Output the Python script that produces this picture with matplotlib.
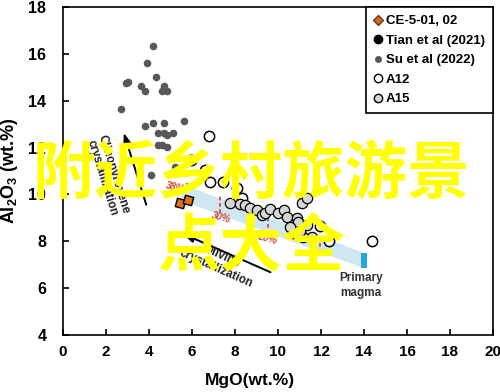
import numpy as np
import matplotlib
matplotlib.use('Agg')
import matplotlib.pyplot as plt
from matplotlib.lines import Line2D
from matplotlib.patches import Polygon, Rectangle

plt.rcParams['font.family'] = ['Liberation Sans', 'DejaVu Sans']
plt.rcParams['font.weight'] = 'bold'
plt.rcParams['mathtext.fontset'] = 'custom'
plt.rcParams['mathtext.rm'] = 'Liberation Sans:bold'
plt.rcParams['mathtext.it'] = 'Liberation Sans:bold'
plt.rcParams['mathtext.bf'] = 'Liberation Sans:bold'

# Su et al (2022)
mgo_su = [4.20, 3.92, 4.31, 2.93, 3.01, 3.61, 3.81, 4.70, 4.59, 4.82, 2.71, 5.61,
          3.81, 4.20, 4.70, 4.43, 4.70, 4.82, 5.10, 4.43, 4.59, 4.82, 5.21, 4.10]
al_su = [16.33, 15.62, 15.02, 14.74, 14.81, 14.62, 14.42, 14.62, 14.42, 14.42, 13.63, 13.14,
         12.91, 13.03, 13.03, 12.63, 12.63, 12.53, 12.63, 12.13, 12.13, 12.03, 11.15, 10.85]

# Tian et al (2021)
mgo_tian = [5.95]
al_tian = [11.45]

# CE-5-01, 02
mgo_ce = [5.45, 5.80]
al_ce = [9.62, 9.75]

# A12
mgo_a12 = [6.80, 6.60, 6.84, 7.44, 8.09, 8.33, 11.95, 12.38, 14.37]
al_a12 = [12.49, 11.03, 10.52, 10.52, 10.26, 9.84, 8.66, 8.02, 8.00]

# A15
mgo_a15 = [7.77, 8.23, 8.47, 8.70, 9.02, 9.26, 9.40, 9.63, 10.00, 10.28, 10.42, 10.88,
           11.12, 11.35, 10.93, 11.35, 10.70, 11.16, 11.58, 10.56, 11.02]
al_a15 = [9.62, 9.58, 9.54, 9.41, 9.32, 9.11, 9.20, 9.37, 9.20, 9.32, 9.03, 8.98,
          9.62, 9.84, 8.81, 8.68, 8.34, 8.17, 8.17, 8.60, 8.43]

# fractionation band to primary magma
band_mgo = [5.5, 14.0, 14.0, 5.5]
band_al = [10.45, 7.5, 6.85, 9.75]

# percent marks
pct_labels = ['38%', '30%', '20%']
pct_mgo = [5.77, 7.30, 9.53]
pct_top = [10.50, 9.97, 9.00]
pct_bot = [10.10, 9.20, 8.30]
pct_lab_x = [5.20, 7.35, 9.49]
pct_lab_y = [10.31, 9.03, 8.13]

fig = plt.figure(figsize=(5, 3.92), dpi=100)
ax = fig.add_axes([0.126, 0.1454, 0.86, 0.8367])

ax.add_patch(Polygon(list(zip(band_mgo, band_al)), closed=True,
                     facecolor='#cfe7f1', edgecolor='none', zorder=1))
ax.add_patch(Rectangle((13.88, 6.85), 0.25, 0.65, facecolor='#2aa4e0',
                       edgecolor='none', zorder=2))

for x, t, b in zip(pct_mgo, pct_top, pct_bot):
    ax.plot([x, x], [b, t], color='#d9453a', lw=1.3, ls=(0, (2, 1.5)), zorder=2)
for lab, x, y in zip(pct_labels, pct_lab_x, pct_lab_y):
    ax.text(x, y, lab, color='#d9453a', fontsize=7, style='italic', rotation=-15,
            ha='center', va='center', zorder=3, weight='bold')
ax.plot([11.95, 11.95], [7.5, 8.2], color='#d9453a', lw=1.3, ls=(0, (2, 1.5)), zorder=2)

ax.scatter(mgo_su, al_su, s=20, color='#585858', zorder=4)
ax.scatter(mgo_tian, al_tian, s=60, color='black', zorder=4)
ax.scatter(mgo_a12, al_a12, s=55, facecolor='white', edgecolor='black', lw=1.1, zorder=4)
ax.scatter(mgo_a15, al_a15, s=55, facecolor='#d6d6d6', edgecolor='black', lw=0.9, zorder=4)
ax.scatter(mgo_ce, al_ce, s=75, marker=(4, 0, 30), color='#e07020',
           edgecolor='black', lw=1, zorder=5)

# crystallization trends
ax.annotate('', xy=(5.44, 8.38), xytext=(9.77, 6.63),
            arrowprops=dict(arrowstyle='-|>,head_length=0.7,head_width=0.25',
                            color='black', lw=1.4))
ax.annotate('', xy=(2.79, 12.74), xytext=(3.91, 9.45),
            arrowprops=dict(arrowstyle='-|>,head_length=0.7,head_width=0.25',
                            color='black', lw=1.4))
ax.text(7.26, 7.1, 'Olivine\ncrystallization', fontsize=8.5, rotation=-24,
        ha='center', va='center', color='#222222', linespacing=1.1,
        rotation_mode='anchor', weight='bold')
ax.text(2.09, 10.78, 'Clinopyroxene\ncrystallization', fontsize=8.5, rotation=-72.7,
        ha='center', va='center', color='#222222', linespacing=1.0,
        rotation_mode='anchor', weight='bold')
ax.text(13.86, 6.12, 'Primary\nmagma', fontsize=8.5, ha='center', va='center',
        color='#333333', linespacing=1.3, weight='bold')

ax.set_xlim(0, 20)
ax.set_ylim(4, 18)
ax.set_xticks(np.arange(0, 21, 2))
ax.set_yticks(np.arange(4, 19, 2))
ax.tick_params(direction='in', top=False, right=False, length=4, width=1.2)
ax.tick_params(axis='x', labelsize=11, pad=7)
ax.tick_params(axis='y', labelsize=11.5, pad=12)
for lab in ax.get_xticklabels() + ax.get_yticklabels():
    lab.set_fontweight('bold')
for sp in ax.spines.values():
    sp.set_linewidth(1.2)

ax.set_xlabel('MgO(wt.%)', fontsize=12.5, fontweight='bold')
ax.xaxis.set_label_coords(0.435, -0.115)
ax.set_ylabel(r'Al$_2$O$_3$ (wt.%)', fontsize=13, fontweight='bold')
ax.yaxis.set_label_coords(-0.1, 0.5)

handles = [
    Line2D([], [], ls='none', marker='D', ms=5, color='#d2691e', mec='#6b3a1a'),
    Line2D([], [], ls='none', marker='o', ms=6, color='black'),
    Line2D([], [], ls='none', marker='o', ms=4, color='#585858'),
    Line2D([], [], ls='none', marker='o', ms=6, mfc='white', mec='black'),
    Line2D([], [], ls='none', marker='o', ms=6, mfc='#d6d6d6', mec='black'),
]
labels = ['CE-5-01, 02', 'Tian et al (2021)', 'Su et al (2022)', 'A12', 'A15']
leg = ax.legend(handles, labels, loc='upper right', borderaxespad=0,
                prop={'size': 9.5, 'weight': 'bold'},
                fancybox=False, edgecolor='black', framealpha=1,
                handlelength=0.6, handletextpad=0.35, labelspacing=0.55, borderpad=0.6)
leg.get_frame().set_linewidth(1.2)

# overlay watermark text
fig.text(0.502, 0.556, '附近乡村旅游景', fontsize=45, color='#ffff00',
         family=['Noto Sans CJK SC', 'DejaVu Sans'], weight='bold',
         ha='center', va='center', zorder=10)
fig.text(0.502, 0.368, '点大全', fontsize=45, color='#ffff00',
         family=['Noto Sans CJK SC', 'DejaVu Sans'], weight='bold',
         ha='center', va='center', zorder=10)

fig.savefig('out.png', dpi=100)
